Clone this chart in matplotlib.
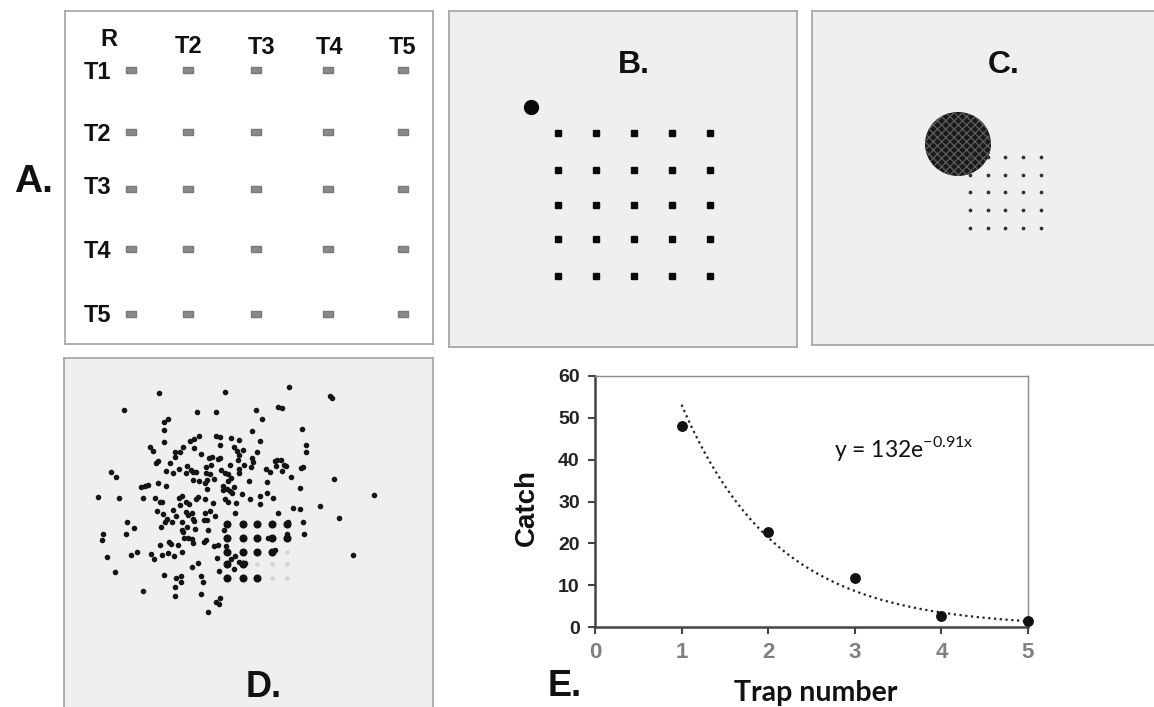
import numpy as np
import matplotlib
matplotlib.use('Agg')
import matplotlib.pyplot as plt
from matplotlib.patches import Ellipse

plt.rcParams['font.family'] = ['Liberation Sans', 'DejaVu Sans']
plt.rcParams['mathtext.fontset'] = 'custom'
plt.rcParams['mathtext.rm'] = 'Lato'
plt.rcParams['hatch.linewidth'] = 0.9

W, H = 1154, 707

# ---- panel A: trap layout (figure pixel units) ----
a_trap_x = [130.7, 188, 256, 328, 403]
a_trap_y = [70, 132, 189, 249, 314]
a_col_labels = ['R', 'T2', 'T3', 'T4', 'T5']
a_row_labels = ['T1', 'T2', 'T3', 'T4', 'T5']

# ---- panel B: release point and trap grid ----
b_release = (531, 107)
b_trap_x = [558, 596, 634, 672, 710]
b_trap_y = [133, 170, 205, 239, 276]

# ---- panel C: released cloud and trap grid ----
c_cloud = (958, 144, 66, 64)  # centre x, centre y, width, height
c_trap_x = [970, 988, 1005, 1023, 1041]
c_trap_y = [157, 175, 192, 210, 228]

# ---- panel D: dispersed individuals ----
d_pts = [
    (159, 393.3), (225, 391.7), (123.7, 410.3), (196.7, 412.3), (215.7, 412.3), (168, 419.3),
    (164, 422.3), (164, 430.3), (164, 442), (198.7, 435.7), (194, 439), (190, 441.3),
    (216.3, 435.7), (220.3, 436.7), (231.3, 438.3), (239, 440.3), (150.3, 447), (152.7, 451),
    (183, 447), (193.7, 448.3), (219.7, 445.3), (234.3, 447.3), (237.3, 450.7), (242.7, 450),
    (175, 452), (180, 451.7), (201, 454.3), (175.3, 457.3), (209.3, 458), (212, 457.3),
    (217.7, 459.3), (219.7, 458.3), (239, 455.3), (238.3, 460), (157.7, 461.3), (156.3, 463.3),
    (170.3, 462.7), (210.7, 464.7), (206, 466.7), (187, 465.7), (230.3, 465), (243.7, 465.3),
    (166, 470.7), (173, 473.3), (179, 469), (191, 470), (193.3, 471.7), (195.7, 471.7),
    (185.7, 473.3), (205.7, 472.7), (221, 470.3), (210.3, 474.3), (225.3, 472.7), (228.3, 474.3),
    (239, 468.7), (239, 472.7), (111, 472.3), (116, 476.7), (192.7, 480.3), (199.3, 480.7),
    (206.7, 479.7), (214.3, 479.3), (231, 478), (228.3, 481.3), (158, 483.3), (166, 486),
    (140.7, 487), (145, 486), (148.3, 485.3), (204.7, 483.3), (223.3, 486), (233.7, 486.7),
    (207, 488.7), (226.7, 489), (223.3, 490.3), (230, 490.7), (232.3, 493.3), (242, 493.7),
    (288.7, 387), (330, 396), (332.3, 398), (256, 409.7), (277.7, 406.7), (281.7, 408),
    (262, 419.3), (252, 431.3), (302.3, 429.3), (260, 441), (306.3, 445.3), (306.3, 452),
    (257, 452), (252, 458.3), (253.3, 461.7), (274.7, 460.7), (277.3, 460), (280.7, 460),
    (251, 467.3), (276, 466.3), (284.3, 465), (286.3, 466.3), (265.7, 469), (270, 471.7),
    (281.7, 470.7), (301, 468), (303, 467), (290.7, 477.3), (249, 480.7), (266.7, 481.7),
    (334, 479), (300.3, 487.7), (266.7, 493.3),
    (98.3, 496.7), (118.7, 497.7), (142.7, 498.3), (155.3, 497.7), (160, 501.7), (161.7, 502.3),
    (179, 498.3), (182.3, 496), (186, 502.3), (189.3, 503.7), (196, 499), (198.3, 496.7),
    (205, 499), (213.3, 503), (225, 499), (227.7, 501.7), (236.3, 503), (235, 513.3),
    (180, 505.3), (157.3, 511), (163.3, 514), (173.3, 509.7), (176, 515.7), (185.7, 512.3),
    (191.7, 512.7), (188.3, 515), (193.3, 519), (193.7, 521), (205, 513), (210, 511),
    (215, 516.3), (204.3, 520), (206.7, 520), (127.3, 521.7), (133.7, 528.3), (167, 519.3),
    (165, 521.7), (172, 521.7), (160.7, 527.3), (182.3, 521.7), (187, 527), (195, 529),
    (207.7, 530), (224.3, 530), (181.7, 530.3), (183.3, 532.3), (103, 533.7), (126.3, 534.3),
    (101.7, 540), (184.3, 538.3), (188, 537.7), (192, 539.3), (192.7, 543.3), (169.3, 541.7),
    (170.7, 544.3), (178, 545), (160.3, 545.3), (204, 541.7), (206, 540.3), (213.7, 546),
    (217.7, 545), (226.3, 545.7), (137, 551.7), (130.7, 555.3), (107, 557), (151.3, 554),
    (153.7, 558.7), (162, 555.3), (168, 552.7), (174, 556), (182, 551.7), (217, 557.7),
    (230.7, 559), (235, 556.3), (239, 561.7), (234.3, 569), (197.7, 563.3), (192, 567.3),
    (219.3, 571), (115, 572.3), (164.3, 575), (181, 575.7), (176, 578.3), (200.7, 575.7),
    (181, 582.3), (203.3, 582.3), (175, 586.7), (142.7, 591), (200.7, 593.7), (175, 596.3),
    (219.7, 598.3), (215.7, 601.7), (219.3, 604.3), (207.7, 612.3),
    (250, 499.3), (260, 496), (272.7, 498.3), (260, 504), (374.3, 495), (277.7, 512.7),
    (293.3, 507.7), (300.3, 509.3), (320, 505.7), (339, 518.3), (303.3, 521.7), (304.3, 533.7),
    (286.7, 533.7), (352.7, 555.3), (268.3, 538.3), (274.5, 549.7), (288.3, 521.7), (244.5, 562.5),
]
d_x = [p[0] for p in d_pts]
d_y = [p[1] for p in d_pts]
d_trap_x = [227, 242.7, 256.7, 272, 286.7]
d_trap_y = [524.3, 538.3, 551.7, 564.3, 577.7]
d_trap_caught = [
    [1, 1, 1, 1, 1],
    [1, 1, 1, 1, 1],
    [1, 1, 1, 1, 0],
    [1, 1, 0, 0, 0],
    [1, 1, 1, 0, 0],
]

# ---- panel E: catch per trap ----
trap_no = [1, 2, 3, 4, 5]
catch = [48, 22.6, 11.6, 2.6, 1.5]
fit_a, fit_b = 132, -0.91
x_ticks = [0, 1, 2, 3, 4, 5]
y_ticks = [0, 10, 20, 30, 40, 50, 60]

fig = plt.figure(figsize=(W / 100, H / 100), dpi=100)


def panel(x0, y0, x1, y1, face):
    ax = fig.add_axes([x0 / W, 1 - y1 / H, (x1 - x0) / W, (y1 - y0) / H])
    ax.set_xlim(x0, x1)
    ax.set_ylim(y1, y0)
    ax.set_facecolor(face)
    ax.set_xticks([])
    ax.set_yticks([])
    for s in ax.spines.values():
        s.set_color('#a8a8a8')
        s.set_linewidth(1.3)
    return ax


lab = dict(fontweight='bold', color='#111111')
rect = [(-1.4, -1), (1.4, -1), (1.4, 1), (-1.4, 1), (-1.4, -1)]

# A
ax = panel(65, 11, 433, 344, 'white')
gx, gy = np.meshgrid(a_trap_x, a_trap_y)
ax.plot(gx.ravel(), gy.ravel(), ls='none', marker=rect, ms=6.5, color='#8a8a8a', mec='#7a7a7a')
for x, y, t in zip([109, 189, 262, 330, 403], [46, 53, 54, 54, 54], a_col_labels):
    ax.text(x, y, t, ha='center', va='baseline', fontsize=17, **lab)
for y, t in zip([79, 141, 194, 258, 322], a_row_labels):
    ax.text(111, y, t, ha='right', va='baseline', fontsize=17, **lab)
ax.text(14, 192, 'A.', ha='left', va='baseline', fontsize=28, **lab)

# B
ax = panel(449, 11, 797, 347, '#efefef')
gx, gy = np.meshgrid(b_trap_x, b_trap_y)
ax.plot(gx.ravel(), gy.ravel(), 's', ms=4.6, color='#0a0a0a')
ax.plot(*b_release, 'o', ms=10, color='#0a0a0a')
ax.text(633.5, 72.7, 'B.', ha='center', va='baseline', fontsize=23, **lab)

# C
ax = panel(812, 11, 1157, 345, '#efefef')
gx, gy = np.meshgrid(c_trap_x, c_trap_y)
ax.plot(gx.ravel(), gy.ravel(), 'o', ms=1.7, color='#333333')
ax.add_patch(Ellipse(c_cloud[:2], c_cloud[2], c_cloud[3], facecolor='#1a1a1a',
                     edgecolor='#5e5e5e', hatch='xxxx', linewidth=0))
ax.text(1004, 72.7, 'C.', ha='center', va='baseline', fontsize=23, **lab)

# D
ax = panel(64, 358, 433, 710, '#efefef')
gx, gy = np.meshgrid(d_trap_x, d_trap_y)
caught = np.array(d_trap_caught).ravel() == 1
ax.plot(gx.ravel()[~caught], gy.ravel()[~caught], 'o', ms=2.2, color='#d2d2d2')
ax.plot(gx.ravel()[caught], gy.ravel()[caught], 'o', ms=4.8, color='#111111')
ax.plot(d_x, d_y, 'o', ms=3.0, color='#151515')
ax.text(263.5, 696.7, 'D.', ha='center', va='baseline', fontsize=26, **lab)

# E
ax = fig.add_axes([595 / W, 1 - 627 / H, (1028 - 595) / W, (627 - 376) / H])
xs = np.linspace(1, 5, 300)
ax.plot(xs, fit_a * np.exp(fit_b * xs), ls=(0, (1, 1.6)), color='#222222', lw=1.6)
ax.plot(trap_no, catch, 'o', ms=6.8, color='#111111', clip_on=False, zorder=4)
ax.set_xlim(0, 5)
ax.set_ylim(0, 60)
ax.set_xticks(x_ticks, labels=[str(v) for v in x_ticks], fontweight='bold',
              fontsize=16, color='#808080')
ax.set_yticks(y_ticks, labels=[str(v) for v in y_ticks], fontweight='bold',
              fontsize=14, color='#222222')
ax.tick_params(axis='y', direction='out', length=5, width=1.5, color='#444444', pad=6)
ax.tick_params(axis='x', direction='out', length=5, width=1.5, color='#444444', pad=6)
for s in ['left', 'bottom']:
    ax.spines[s].set_color('#444444')
    ax.spines[s].set_linewidth(1.8)
for s in ['top', 'right']:
    ax.spines[s].set_color('#8a8a8a')
    ax.spines[s].set_linewidth(1.0)
fig.text(834 / W, 1 - 457 / H, r'y = 132e$^{\mathregular{-0.91x}}$',
         ha='left', va='baseline', fontsize=16.5, family='Lato', color='#111111')
fig.text(527 / W, 1 - 508 / H, 'Catch', rotation=90, ha='center', va='center',
         fontsize=20, fontweight='bold', color='#111111')
fig.text(816 / W, 1 - 701 / H, 'Trap number', ha='center', va='baseline',
         fontsize=20.5, fontweight='bold', family='Lato', color='#111111')
fig.text(548 / W, 1 - 696 / H, 'E.', ha='left', va='baseline',
         fontsize=26, fontweight='bold', color='#111111')

fig.savefig('out.png', dpi=100, facecolor='white')
